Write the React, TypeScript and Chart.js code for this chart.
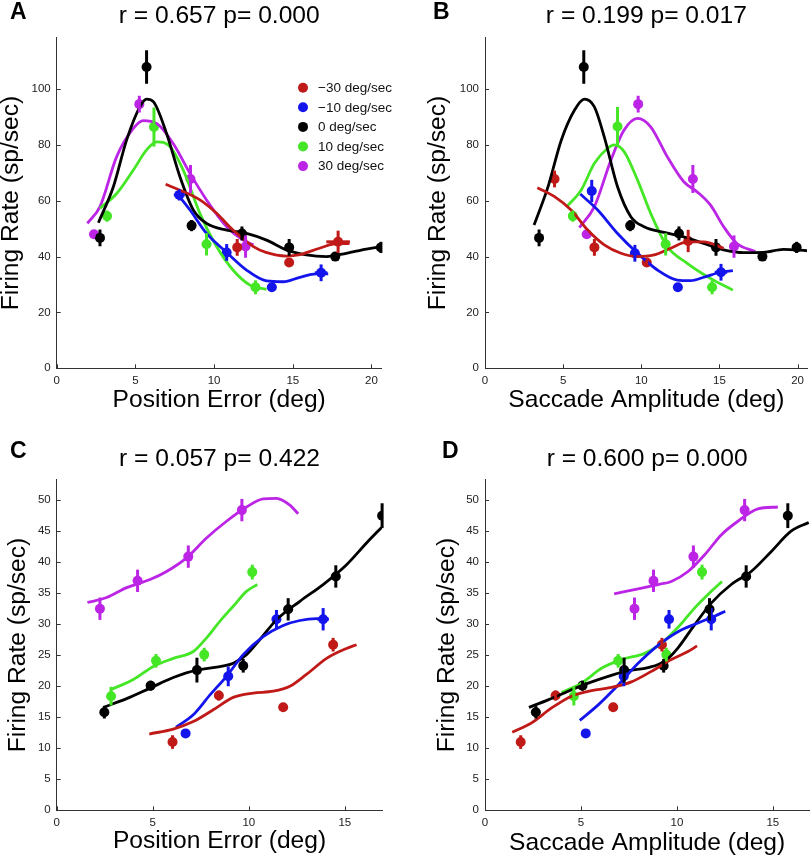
import React, { useEffect, useRef } from 'react';
import { Chart, registerables } from 'chart.js';
Chart.register(...registerables);

// ---------- shared text / ticks ----------
const seriesLabels = ['\u221230 deg/sec', '\u221210 deg/sec', '0 deg/sec', '10 deg/sec', '30 deg/sec'];
const panelLetters = ['A', 'B', 'C', 'D'];
const panelTitles = ['r = 0.657 p= 0.000', 'r = 0.199 p= 0.017', 'r = 0.057 p= 0.422', 'r = 0.600 p= 0.000'];
const xTitles = ['Position Error (deg)', 'Saccade Amplitude (deg)', 'Position Error (deg)', 'Saccade Amplitude (deg)'];
const yTitle = 'Firing Rate (sp/sec)';
const xTicksTop = [0, 5, 10, 15, 20];
const yTicksTop = [0, 20, 40, 60, 80, 100];
const xTicksBottom = [0, 5, 10, 15];
const yTicksBottom = [0, 5, 10, 15, 20, 25, 30, 35, 40, 45, 50];

// ---------- data: points [x, y, yErr, xErr?], curves [x, y] ----------
// Panel A
const aRedPts = [[11.47, 43.3, 3], [14.77, 37.9, 1], [17.88, 45.3, 4, 0.75]];
const aRedCurve = [[6.92, 65.9], [7.83, 63.8], [9.1, 60.3], [10.16, 55.5], [11.2, 49.5], [12.5, 43.6], [13.3, 41.5], [14.6, 40.2], [15.45, 40.7], [16.7, 43.0], [17.8, 44.7], [18.6, 44.7]];
const aBluePts = [[7.79, 62.1, 2, 0.35], [10.8, 41.5, 3], [13.67, 29.0, 1], [16.8, 34.2, 3, 0.4]];
const aBlueCurve = [[7.6, 62.9], [8.47, 56.7], [9.52, 48.3], [10.8, 41.5], [12.06, 35.2], [13.33, 31.3], [14.4, 31.0], [15.45, 32.6], [16.5, 33.8], [17.25, 33.8]];
const aBlackPts = [[2.75, 46.7, 3], [5.71, 107.9, 6], [8.57, 51.1, 2], [11.77, 48.3, 2.5], [14.77, 43.3, 3], [17.7, 40.0, 1], [20.6, 43.3, 2]];
const aBlackCurve = [[2.65, 52.1], [3.6, 65.0], [4.44, 81.7], [5.29, 93.7], [5.71, 96.4], [6.14, 95.5], [6.98, 84.1], [7.83, 68.6], [8.68, 56.7], [9.52, 51.9], [10.8, 49.5], [12.06, 48.3], [13.33, 45.9], [14.6, 42.4], [15.87, 40.6], [17.14, 40.0], [18.4, 41.2], [19.68, 42.7], [20.65, 43.6]];
const aGreenPts = [[3.2, 54.5, 2], [6.18, 86.4, 7], [9.52, 44.4, 4], [12.63, 29.0, 2.5]];
const aGreenCurve = [[2.75, 57.3], [3.81, 62.6], [4.87, 71.0], [5.71, 78.2], [6.35, 81.1], [7.2, 79.4], [8.04, 71.0], [9.1, 55.5], [10.16, 43.6], [11.2, 35.2], [12.28, 29.8], [13.33, 28.3]];
const aMagPts = [[2.37, 48.0, 1], [5.25, 94.6, 3], [8.5, 67.8, 5], [12.0, 43.6, 4]];
const aMagCurve = [[1.95, 51.9], [2.75, 57.9], [3.81, 75.8], [4.87, 85.9], [5.5, 88.7], [6.35, 87.7], [7.4, 80.5], [8.47, 69.8], [9.52, 60.3], [10.8, 50.7], [11.85, 45.9], [12.5, 44.2]];

// Panel B
const bRedPts = [[4.45, 67.8, 3], [7.0, 43.3, 3], [10.35, 37.9, 1], [13.0, 45.6, 4]];
const bRedCurve = [[3.35, 64.7], [4.45, 61.5], [5.51, 56.7], [6.57, 49.5], [7.63, 44.2], [8.7, 41.2], [9.76, 40.0], [10.82, 40.6], [11.88, 43.0], [12.94, 45.3], [14.0, 45.3], [15.27, 43.0]];
const bBluePts = [[6.83, 63.5, 4], [9.59, 41.2, 3], [12.34, 29.0, 1], [15.1, 34.4, 3, 0.4]];
const bBlueCurve = [[6.1, 62.4], [7.21, 56.7], [8.48, 48.3], [9.76, 41.2], [11.03, 35.2], [12.3, 31.6], [13.15, 31.4], [14.0, 32.6], [15.06, 34.4], [15.86, 35.0]];
const bBlackPts = [[3.46, 46.7, 3], [6.32, 107.9, 6], [9.29, 51.1, 2], [12.41, 48.3, 2.5], [14.78, 43.3, 3], [17.75, 40.0, 1], [19.94, 43.3, 2]];
const bBlackCurve = [[3.14, 51.3], [4.03, 65.0], [4.88, 81.7], [5.73, 92.5], [6.36, 96.4], [6.99, 93.7], [7.63, 82.9], [8.48, 65.0], [9.33, 54.3], [10.18, 50.7], [11.45, 48.7], [12.72, 47.1], [13.99, 44.7], [15.27, 42.4], [16.54, 41.4], [17.82, 41.5], [19.09, 42.6], [20.6, 42.1]];
const bGreenPts = [[5.62, 54.5, 2], [8.48, 86.6, 7], [11.56, 44.4, 4], [14.53, 29.0, 2.5]];
const bGreenCurve = [[5.26, 58.1], [6.15, 63.8], [7.0, 73.4], [7.85, 78.8], [8.27, 80.0], [8.9, 77.6], [9.76, 67.4], [10.6, 55.5], [11.66, 43.6], [12.94, 37.6], [14.42, 32.2], [15.86, 28.0]];
const bMagPts = [[6.51, 48.0, 1], [9.8, 94.6, 3], [13.3, 67.8, 5], [15.93, 43.6, 4]];
const bMagCurve = [[6.04, 50.4], [7.0, 57.9], [8.06, 74.6], [8.9, 85.3], [9.76, 89.5], [10.6, 86.5], [11.66, 75.8], [12.72, 66.8], [13.57, 63.2], [14.42, 58.5], [15.27, 50.7], [16.12, 44.7], [17.29, 41.8]];

// Panel C
const cRedPts = [[6.03, 11.0, 1.1], [8.44, 18.5, 0.8], [11.79, 16.6, 0.3], [14.39, 26.7, 1.1]];
const cRedCurve = [[4.82, 12.3], [6.07, 13.1], [7.11, 14.3], [8.15, 16.2], [9.19, 18.2], [10.23, 18.9], [11.27, 19.2], [12.14, 20.0], [13.0, 21.9], [14.05, 24.5], [15.09, 26.1], [15.61, 26.7]];
const cBluePts = [[6.71, 12.4, 0.6], [8.93, 21.6, 1.6], [11.44, 30.8, 1.5], [13.87, 30.8, 1.8, 0.3]];
const cBlueCurve = [[6.21, 13.4], [7.11, 15.4], [7.98, 18.6], [8.84, 21.6], [9.71, 25.1], [10.75, 28.0], [11.79, 29.8], [12.66, 30.6], [13.53, 30.9], [14.13, 30.9]];
const cBlackPts = [[2.48, 15.8, 1], [4.89, 20.1, 0.8], [7.3, 22.6, 2], [9.71, 23.3, 1.1], [12.05, 32.4, 1.8], [14.53, 37.7, 1.8], [16.94, 47.5, 2]];
const cBlackCurve = [[2.43, 16.6], [3.64, 18.0], [4.86, 19.7], [6.07, 21.4], [7.28, 22.6], [8.33, 23.1], [9.19, 23.7], [9.88, 25.1], [10.57, 27.5], [11.44, 30.7], [12.66, 33.7], [13.87, 36.4], [15.09, 39.6], [16.13, 43.1], [16.91, 45.6]];
const cGreenPts = [[2.83, 18.4, 1.5], [5.17, 24.1, 1.1], [7.68, 25.1, 1.1], [10.18, 38.4, 1.2]];
const cGreenCurve = [[2.77, 19.4], [3.99, 21.1], [5.03, 23.2], [6.07, 24.5], [7.11, 25.6], [7.8, 27.8], [8.5, 30.5], [9.19, 32.9], [9.88, 35.3], [10.44, 36.4]];
const cMagPts = [[2.25, 32.5, 1.8], [4.21, 37.0, 1.8], [6.85, 40.9, 1.8], [9.64, 48.4, 1.8]];
const cMagCurve = [[1.6, 33.5], [2.6, 34.3], [3.64, 35.9], [4.86, 37.2], [5.72, 38.5], [6.76, 40.7], [7.8, 43.9], [8.84, 46.6], [9.88, 48.9], [10.75, 50.2], [11.44, 50.3], [12.14, 49.2], [12.57, 47.8]];

// Panel D
const dRedPts = [[1.86, 11.0, 1.1], [3.68, 18.5, 0.8], [6.68, 16.6, 0.3], [9.22, 26.7, 1.1]];
const dRedCurve = [[1.42, 12.6], [2.43, 14.1], [3.47, 16.5], [4.51, 18.4], [5.55, 19.3], [6.59, 19.8], [7.63, 20.7], [8.67, 22.4], [9.71, 24.3], [10.58, 25.6], [11.05, 26.5]];
const dBluePts = [[5.25, 12.4, 0.6], [7.23, 21.6, 1.6], [9.59, 30.8, 1.5], [11.79, 30.8, 1.8]];
const dBlueCurve = [[4.94, 14.5], [5.9, 17.0], [6.94, 20.2], [7.98, 23.7], [9.02, 26.6], [10.06, 28.8], [11.1, 30.2], [11.96, 31.3], [12.52, 32.1]];
const dBlackPts = [[2.65, 15.8, 1], [5.08, 20.1, 0.8], [7.25, 22.6, 2], [9.31, 23.3, 1.1], [11.7, 32.4, 1.8], [13.61, 37.7, 1.8], [15.78, 47.5, 2]];
const dBlackCurve = [[2.29, 16.6], [3.29, 17.8], [4.34, 19.2], [5.38, 20.5], [6.42, 21.6], [7.46, 22.5], [8.5, 23.0], [9.36, 24.0], [10.06, 26.2], [10.92, 29.9], [11.79, 33.4], [12.83, 36.4], [13.87, 38.5], [14.91, 41.7], [15.95, 45.0], [16.87, 46.4]];
const dGreenPts = [[4.63, 18.4, 1.5], [6.94, 24.1, 1.1], [9.45, 25.1, 1.1], [11.31, 38.4, 1.2]];
const dGreenCurve = [[3.99, 19.0], [5.03, 20.5], [6.07, 22.9], [7.11, 24.3], [8.32, 25.3], [9.19, 26.9], [10.06, 29.5], [10.92, 32.6], [11.79, 35.3], [12.35, 36.9]];
const dMagPts = [[7.79, 32.5, 1.8], [8.78, 37.0, 1.8], [10.86, 40.9, 1.8], [13.53, 48.4, 1.8]];
const dMagCurve = [[6.73, 34.9], [7.98, 35.7], [9.02, 36.4], [9.71, 36.9], [10.58, 38.5], [11.45, 41.2], [12.31, 44.4], [13.18, 46.6], [14.22, 48.6], [15.26, 48.9]];

// ---------- styles ----------
const COLORS = ['#c01a18', '#1414ec', '#000000', '#44e626', '#bc24e6'];
const FONT = "'Liberation Sans', Arial, Helvetica, sans-serif";
const AXIS_COLOR = '#333333';

type Panel = {
  idx: number; left: number; top: number; w: number; h: number;
  area: { l: number; r: number; t: number; b: number };
  xMax: number; yMax: number; xTicks: number[]; yTicks: number[];
  titleY: number; letterX: number; letterY: number; yTitleX: number; xTitleOff: number;
  pts: number[][][]; curves: number[][][]; legend: boolean;
};

const PANELS: Panel[] = [
  { idx: 0, left: 0, top: 0, w: 405, h: 425, area: { l: 56.7, r: 381.7, t: 37.7, b: 368.3 }, xMax: 20.65, yMax: 118.4,
    xTicks: xTicksTop, yTicks: yTicksTop, titleY: 16, letterX: 10, letterY: 13, yTitleX: 11.7, xTitleOff: 25,
    pts: [aRedPts, aBluePts, aBlackPts, aGreenPts, aMagPts], curves: [aRedCurve, aBlueCurve, aBlackCurve, aGreenCurve, aMagCurve], legend: true },
  { idx: 1, left: 405, top: 0, w: 405, h: 425, area: { l: 80, r: 404.3, t: 37.7, b: 368.3 }, xMax: 20.65, yMax: 118.4,
    xTicks: xTicksTop, yTicks: yTicksTop, titleY: 16, letterX: 28, letterY: 13, yTitleX: 33.3, xTitleOff: 25,
    pts: [bRedPts, bBluePts, bBlackPts, bGreenPts, bMagPts], curves: [bRedCurve, bBlueCurve, bBlackCurve, bGreenCurve, bMagCurve], legend: false },
  { idx: 2, left: 0, top: 425, w: 405, h: 432, area: { l: 56.7, r: 382.3, t: 54.7, b: 385.3 }, xMax: 16.95, yMax: 53.3,
    xTicks: xTicksBottom, yTicks: yTicksBottom, titleY: 34.3, letterX: 10, letterY: 27, yTitleX: 18.3, xTitleOff: 15.7,
    pts: [cRedPts, cBluePts, cBlackPts, cGreenPts, cMagPts], curves: [cRedCurve, cBlueCurve, cBlackCurve, cGreenCurve, cMagCurve], legend: false },
  { idx: 3, left: 405, top: 425, w: 405, h: 432, area: { l: 80, r: 404.3, t: 54.7, b: 385.3 }, xMax: 16.9, yMax: 53.3,
    xTicks: xTicksBottom, yTicks: yTicksBottom, titleY: 34.3, letterX: 37, letterY: 27, yTitleX: 42.5, xTitleOff: 14,
    pts: [dRedPts, dBluePts, dBlackPts, dGreenPts, dMagPts], curves: [dRedCurve, dBlueCurve, dBlackCurve, dGreenCurve, dMagCurve], legend: false },
];

// ---------- plugins ----------
const errorBarPlugin = {
  id: 'errorBars',
  afterDatasetsDraw(chart: any) {
    const ctx = chart.ctx;
    const xs = chart.scales.x, ys = chart.scales.y;
    ctx.save();
    ctx.lineWidth = 3;
    ctx.lineCap = 'butt';
    chart.data.datasets.forEach((ds: any) => {
      if (!ds.isPts) return;
      ctx.strokeStyle = ds.backgroundColor;
      ds.data.forEach((p: any) => {
        const px = xs.getPixelForValue(p.x);
        if (p.e) {
          ctx.beginPath();
          ctx.moveTo(px, ys.getPixelForValue(p.y - p.e));
          ctx.lineTo(px, ys.getPixelForValue(p.y + p.e));
          ctx.stroke();
        }
        if (p.ex) {
          const py = ys.getPixelForValue(p.y);
          ctx.beginPath();
          ctx.moveTo(xs.getPixelForValue(p.x - p.ex), py);
          ctx.lineTo(xs.getPixelForValue(p.x + p.ex), py);
          ctx.stroke();
        }
      });
    });
    ctx.restore();
  },
};

const decorPlugin = {
  id: 'decor',
  afterDraw(chart: any, _args: any, opts: any) {
    const ctx = chart.ctx;
    const xs = chart.scales.x, ys = chart.scales.y;
    const area = chart.chartArea;
    const p: Panel = opts.panel;
    ctx.save();
    // inward tick marks
    ctx.strokeStyle = AXIS_COLOR;
    ctx.lineWidth = 1;
    p.xTicks.forEach((v) => {
      const x = Math.round(xs.getPixelForValue(v)) + 0.5;
      ctx.beginPath();
      ctx.moveTo(x, area.bottom);
      ctx.lineTo(x, area.bottom - 4);
      ctx.stroke();
    });
    p.yTicks.forEach((v) => {
      const y = Math.round(ys.getPixelForValue(v)) + 0.5;
      ctx.beginPath();
      ctx.moveTo(area.left, y);
      ctx.lineTo(area.left + 4, y);
      ctx.stroke();
    });
    // title
    ctx.fillStyle = '#000';
    ctx.font = `24.6px ${FONT}`;
    ctx.textAlign = 'center';
    ctx.textBaseline = 'middle';
    ctx.fillText(panelTitles[p.idx], (area.left + area.right) / 2, p.titleY);
    // panel letter
    ctx.font = `bold 23px ${FONT}`;
    ctx.textAlign = 'left';
    ctx.fillText(panelLetters[p.idx], p.letterX, p.letterY);
    // legend
    if (p.legend) {
      ctx.font = `13.5px ${FONT}`;
      seriesLabels.forEach((lab, i) => {
        const y = 87.7 + i * 19.6;
        ctx.fillStyle = COLORS[i];
        ctx.beginPath();
        ctx.arc(303, y, 5, 0, Math.PI * 2);
        ctx.fill();
        ctx.fillStyle = '#111';
        ctx.fillText(lab, 318, y + 0.5);
      });
    }
    ctx.restore();
  },
};

function buildConfig(p: Panel): any {
  const datasets: any[] = [];
  p.curves.forEach((curve, i) => {
    datasets.push({
      label: seriesLabels[i] + ' fit',
      data: curve.map(([x, y]) => ({ x, y })),
      showLine: true,
      borderColor: COLORS[i],
      backgroundColor: COLORS[i],
      borderWidth: 2.8,
      pointRadius: 0,
      cubicInterpolationMode: 'monotone',
      fill: false,
    });
  });
  p.pts.forEach((pts, i) => {
    datasets.push({
      label: seriesLabels[i],
      isPts: true,
      data: pts.map(([x, y, e, ex]) => ({ x, y, e, ex: ex || 0 })),
      backgroundColor: COLORS[i],
      borderColor: COLORS[i],
      pointRadius: 5,
      pointBorderWidth: 0,
      showLine: false,
    });
  });
  const tickFont = { family: FONT, size: 11.5 };
  const titleFont = { family: FONT, size: 24.6, lineHeight: 1 };
  return {
    type: 'scatter',
    data: { datasets },
    plugins: [errorBarPlugin, decorPlugin],
    options: {
      responsive: false,
      animation: false,
      devicePixelRatio: 1,
      layout: { autoPadding: false, padding: { left: 0, top: p.area.t, right: p.w - p.area.r, bottom: 0 } },
      plugins: {
        legend: { display: false },
        tooltip: { enabled: false },
        title: { display: false },
        decor: { panel: p },
      },
      scales: {
        x: {
          type: 'linear', min: 0, max: p.xMax,
          grid: { display: false, drawTicks: false },
          border: { display: true, color: AXIS_COLOR, width: 1 },
          ticks: { font: tickFont, color: '#222', padding: 6, maxRotation: 0, autoSkip: false },
          afterBuildTicks: (s: any) => { s.ticks = p.xTicks.map((v) => ({ value: v })); },
          afterFit: (s: any) => { s.height = p.h - p.area.b; },
          title: { display: true, text: xTitles[p.idx], color: '#000', font: titleFont, padding: { top: 0, bottom: p.xTitleOff - 12.3 } },
        },
        y: {
          type: 'linear', min: 0, max: p.yMax,
          grid: { display: false, drawTicks: false },
          border: { display: true, color: AXIS_COLOR, width: 1 },
          ticks: { font: tickFont, color: '#222', padding: 6, autoSkip: false },
          afterBuildTicks: (s: any) => { s.ticks = p.yTicks.map((v) => ({ value: v })); },
          afterFit: (s: any) => { s.width = p.area.l; },
          title: { display: true, text: yTitle, color: '#000', font: titleFont, padding: { top: p.yTitleX - 12.3, bottom: 0 } },
        },
      },
    },
  };
}

function PanelChart({ p }: { p: Panel }) {
  const ref = useRef<HTMLCanvasElement>(null);
  useEffect(() => {
    const chart = new Chart(ref.current as HTMLCanvasElement, buildConfig(p));
    return () => chart.destroy();
  }, [p]);
  return (
    <canvas
      ref={ref}
      width={p.w}
      height={p.h}
      style={{ position: 'absolute', left: p.left, top: p.top, width: p.w, height: p.h }}
    />
  );
}

export default function App() {
  return (
    <div style={{ position: 'fixed', left: 0, top: 0, width: 810, height: 857, background: '#fff', overflow: 'hidden' }}>
      {PANELS.map((p) => (
        <PanelChart key={p.idx} p={p} />
      ))}
    </div>
  );
}
